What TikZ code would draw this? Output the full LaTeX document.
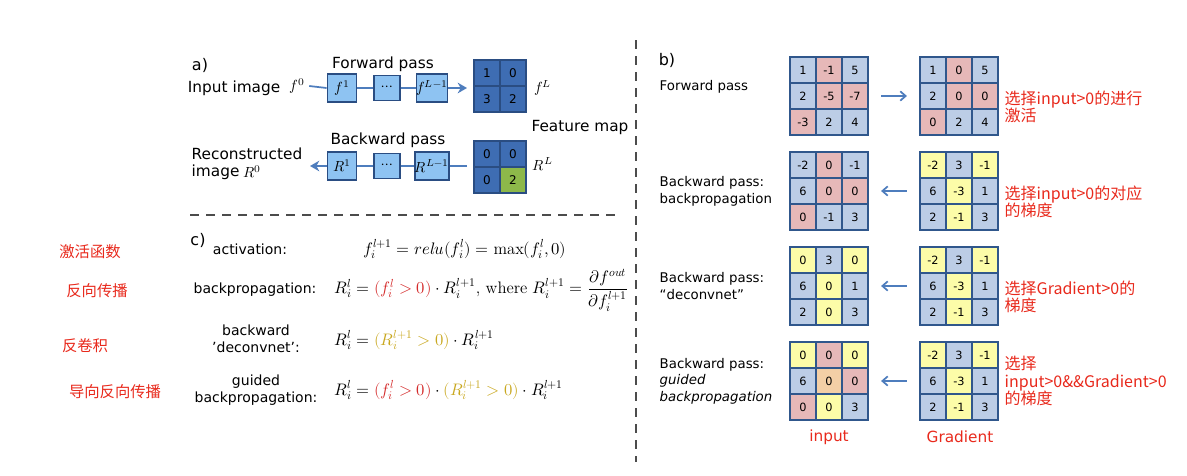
\documentclass[tikz,border=0pt]{standalone}
\usepackage{fontspec}
\setmainfont{DejaVu Sans}
\newfontfamily\cjk{Noto Sans CJK SC}
\newfontfamily\lmr{Latin Modern Roman}
\usepackage{unicode-math}
\setmathfont{Latin Modern Math}
\usetikzlibrary{arrows.meta}
\definecolor{cB}{HTML}{BCCDE6}
\definecolor{cR}{HTML}{E6B8B8}
\definecolor{cY}{HTML}{FCFCA8}
\definecolor{cO}{HTML}{F3CFA6}
\definecolor{brd}{HTML}{30578C}
\definecolor{fm}{HTML}{3E6DB3}
\definecolor{fmb}{HTML}{2A4D82}
\definecolor{gr}{HTML}{8DB84A}
\definecolor{lb}{HTML}{8EC3F2}
\definecolor{ln}{HTML}{4E7DBD}
\definecolor{zred}{HTML}{E8291C}
\definecolor{mred}{HTML}{D42A2A}
\definecolor{myel}{HTML}{C9A820}
\tikzset{
 cell/.style={draw=brd,line width=1.6pt,minimum size=26*0.75pt,inner sep=0pt,font=\fontsize{8.5}{9}\selectfont},
 fcell/.style={draw=fmb,line width=1.6pt,fill=fm,minimum size=26*0.75pt,inner sep=0pt,font=\fontsize{9}{10}\selectfont},
 lay/.style={draw=fmb,line width=1.4pt,fill=lb,minimum width=29*0.75pt,minimum height=28*0.75pt,inner sep=0pt,font=\fontsize{11}{12}\selectfont},
 dlay/.style={draw=fmb,line width=1.4pt,fill=lb,minimum width=26*0.75pt,minimum height=25*0.75pt,inner sep=0pt,font=\fontsize{11}{12}\selectfont},
 con/.style={ln,line width=1.3pt},
 arr/.style={ln,line width=1.3pt,-{Stealth[length=7pt,width=8pt]}},
 barb/.style={ln,line width=1.3pt,-{Straight Barb[length=4pt,width=7pt]}},
 lab/.style={font=\fontsize{11.5}{13}\selectfont,align=left},
 rlab/.style={font=\fontsize{10}{12.5}\selectfont,align=left,anchor=west},
 zh/.style={font=\cjk\fontsize{12}{13}\selectfont,text=zred,align=left,anchor=west},
 zl/.style={font=\cjk\fontsize{11.5}{13}\selectfont,text=zred},
 mlab/.style={font=\fontsize{10.5}{12.5}\selectfont,align=center},
 eq/.style={font=\fontsize{12.5}{14}\selectfont},
 sm/.style={font=\fontsize{11}{12}\selectfont},
 dsh/.style={black!70,line width=0.8pt,dash pattern=on 7pt off 5pt}
}
\newcommand\mygrid[4]{%
 \foreach \c/\r/\k/\v [count=\i] in {#4}
  \node[cell,fill=\k] (#3-\i) at (#1+\c*26,#2+\r*26) {\v};
}
\begin{document}
\begin{tikzpicture}[x=0.75pt,y=-0.75pt]
\useasboundingbox (0,0) rectangle (1187,475);
% a)
\node[font=\fontsize{12}{13}\selectfont] (la) at (200,65) {a)};
\node[lab] (fp) at (383,64) {Forward pass};
\node[lab,anchor=east] (inp) at (285,88) {Input image};
\node[sm] (f0) at (297,86) {$f^0$};
\node[lay] (f1) at (342,88) {$f^1$};
\node[dlay] (fd) at (387,88) {$\cdots$};
\node[lay] (fL) at (432,88) {$f^{L-1}$};
\draw[con] (f0.east) -- (f1.west);
\draw[con] (f1) -- (fd); \draw[con] (fd) -- (fL);
\coordinate (fe) at (467,88);
\draw[arr] (fL.east) -- (fe);
\node[fcell] (m1) at (487,73) {1}; \node[fcell] (m2) at (513,73) {0};
\node[fcell] (m3) at (487,99) {3}; \node[fcell] (m4) at (513,99) {2};
\node[sm] (fLl) at (543,88) {$f^L$};
\node[lab] (fmap) at (580,128) {Feature map};
\node[lab] (bp) at (388,140) {Backward pass};
\node[lab,anchor=west] (rec) at (187,164) {Reconstructed\\image};
\node[sm] (r0) at (252,172) {$R^0$};
\node[lay] (r1) at (342,166) {$R^1$};
\node[dlay] (rd) at (387,166) {$\cdots$};
\node[lay] (rL) at (432,166) {$R^{L-1}$};
\coordinate (rs) at (467,166);
\coordinate (re) at (310,166);
\draw[con] (rs) -- (rL.east);
\draw[con] (rL) -- (rd); \draw[con] (rd) -- (r1);
\draw[arr] (r1.west) -- (re);
\node[fcell] (n1) at (487,154) {0}; \node[fcell] (n2) at (513,154) {0};
\node[fcell] (n3) at (487,180) {0}; \node[fcell,fill=gr] (n4) at (513,180) {2};
\node[sm] (rLl) at (543,164) {$R^L$};
% dashed lines
\coordinate (h1) at (190,215); \coordinate (h2) at (615,215);
\draw[dsh] (h1) -- (h2);
\coordinate (v1) at (636,40); \coordinate (v2) at (636,462);
\draw[dsh] (v1) -- (v2);
% c)
\node[font=\fontsize{12}{13}\selectfont] (lc) at (198,240) {c)};
\node[mlab] (c1) at (250,249) {activation:};
\node[eq] (e1) at (465,249) {$f_i^{l+1}=relu(f_i^l)=\text{\lmr max}(f_i^l,0)$};
\node[mlab] (c2) at (255,290) {backpropagation:};
\node[eq,anchor=west] (e2) at (330,290) {$R_i^l=\textcolor{mred}{(f_i^l>0)}\cdot R_i^{l+1}\text{\lmr, where }R_i^{l+1}=\dfrac{\partial f^{out}}{\partial f_i^{l+1}}$};
\node[mlab] (c3) at (256,339) {backward\\'deconvnet':};
\node[eq,anchor=west] (e3) at (330,340) {$R_i^l=\textcolor{myel}{(R_i^{l+1}>0)}\cdot R_i^{l+1}$};
\node[mlab] (c4) at (256,390) {guided\\backpropagation:};
\node[eq,anchor=west] (e4) at (330,390) {$R_i^l=\textcolor{mred}{(f_i^l>0)}\cdot\textcolor{myel}{(R_i^{l+1}>0)}\cdot R_i^{l+1}$};
% left chinese
\node[zl] (z1) at (90,252) {激活函数};
\node[zl] (z2) at (97,291) {反向传播};
\node[zl] (z3) at (85,346) {反卷积};
\node[zl] (z4) at (115,392) {导向反向传播};
% b)
\node[font=\fontsize{12}{13}\selectfont] (lb) at (667,60) {b)};
\node[rlab] (b1) at (655,87) {Forward pass};
\node[rlab] (b2) at (655,191) {Backward pass:\\backpropagation};
\node[rlab] (b3) at (655,286) {Backward pass:\\“deconvnet”};
\node[rlab] (b4) at (655,381) {Backward pass:\\\textit{guided}\\\textit{backpropagation}};
\mygrid{803}{70}{ga}{0/0/cB/1,1/0/cR/-1,2/0/cB/5,0/1/cB/2,1/1/cR/-5,2/1/cR/-7,0/2/cR/-3,1/2/cB/2,2/2/cB/4}
\mygrid{933}{70}{gb}{0/0/cB/1,1/0/cR/0,2/0/cB/5,0/1/cB/2,1/1/cR/0,2/1/cR/0,0/2/cR/0,1/2/cB/2,2/2/cB/4}
\mygrid{803}{165}{gc}{0/0/cB/-2,1/0/cR/0,2/0/cB/-1,0/1/cB/6,1/1/cR/0,2/1/cR/0,0/2/cR/0,1/2/cB/-1,2/2/cB/3}
\mygrid{933}{165}{gd}{0/0/cY/-2,1/0/cB/3,2/0/cY/-1,0/1/cB/6,1/1/cY/-3,2/1/cB/1,0/2/cB/2,1/2/cY/-1,2/2/cB/3}
\mygrid{803}{260}{ge}{0/0/cY/0,1/0/cB/3,2/0/cY/0,0/1/cB/6,1/1/cY/0,2/1/cB/1,0/2/cB/2,1/2/cY/0,2/2/cB/3}
\mygrid{933}{260}{gf}{0/0/cY/-2,1/0/cB/3,2/0/cY/-1,0/1/cB/6,1/1/cY/-3,2/1/cB/1,0/2/cB/2,1/2/cY/-1,2/2/cB/3}
\mygrid{803}{355}{gg}{0/0/cY/0,1/0/cR/0,2/0/cY/0,0/1/cB/6,1/1/cO/0,2/1/cR/0,0/2/cR/0,1/2/cY/0,2/2/cB/3}
\mygrid{933}{355}{gh}{0/0/cY/-2,1/0/cB/3,2/0/cY/-1,0/1/cB/6,1/1/cY/-3,2/1/cB/1,0/2/cB/2,1/2/cY/-1,2/2/cB/3}
\draw[barb] ([xshift=9pt]ga-6.east) -- ([xshift=-9pt]gb-4.west);
\draw[barb] ([xshift=-9pt]gd-4.west) -- ([xshift=9pt]gc-6.east);
\draw[barb] ([xshift=-9pt]gf-4.west) -- ([xshift=9pt]ge-6.east);
\draw[barb] ([xshift=-9pt]gh-4.west) -- ([xshift=9pt]gg-6.east);
\node[zh] (y1) at (1000,107) {选择input>0的进行\\激活};
\node[zh] (y2) at (1000,202) {选择input>0的对应\\的梯度};
\node[zh] (y3) at (1000,297) {选择Gradient>0的\\梯度};
\node[zh] (y4) at (1000,381) {选择\\input>0\&\&Gradient>0\\的梯度};
\node[font=\fontsize{11.5}{13}\selectfont,text=zred] (in) at (829,437) {input};
\node[font=\fontsize{11.5}{13}\selectfont,text=zred] (gdl) at (960,437) {Gradient};
\end{tikzpicture}
\end{document}
